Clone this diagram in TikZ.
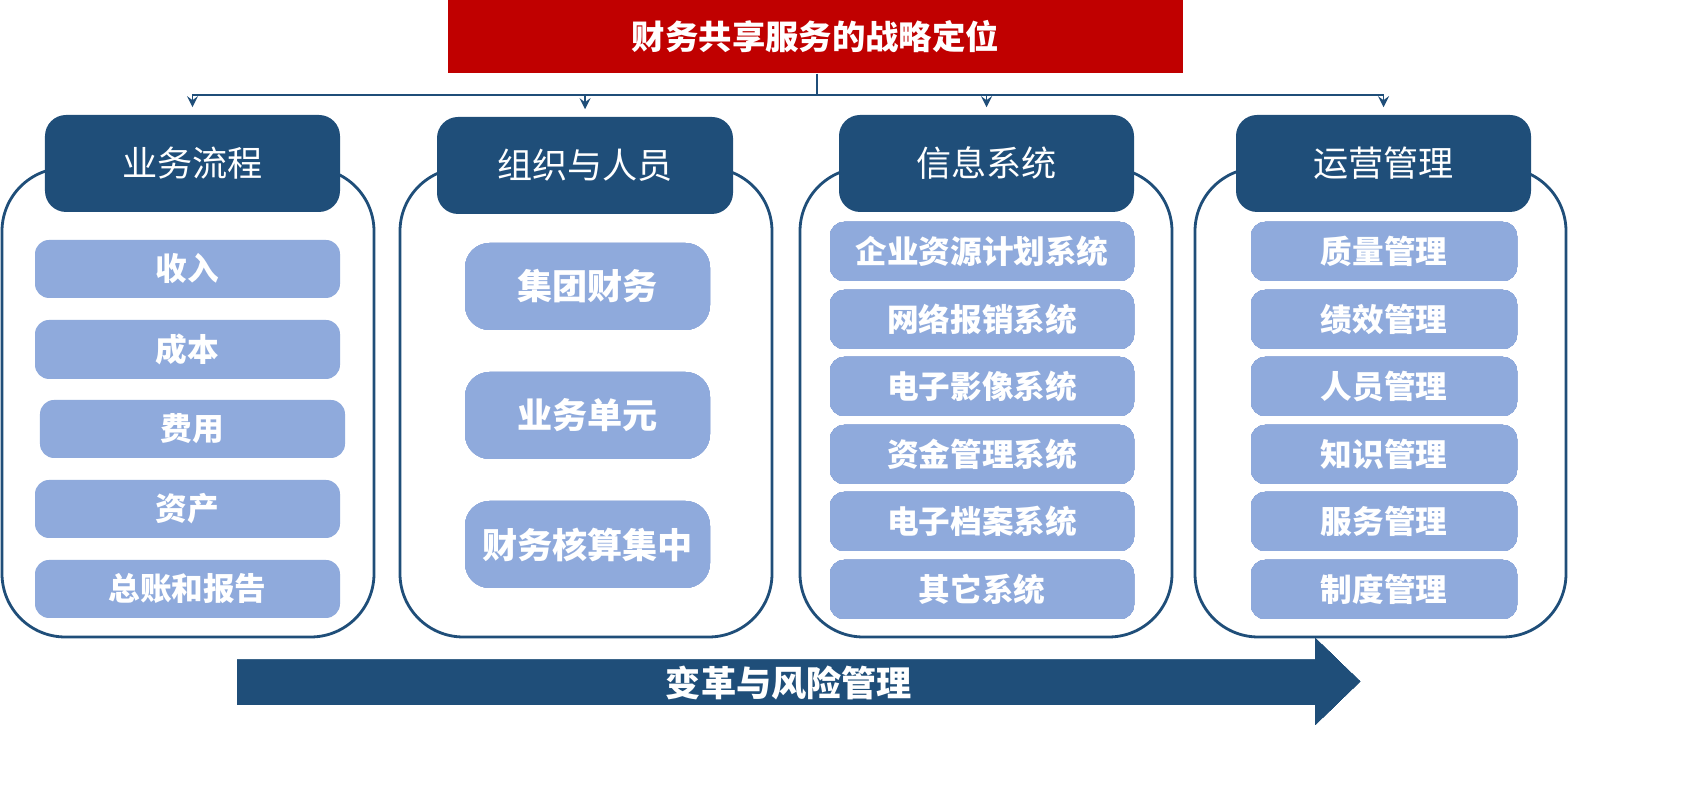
\documentclass[tikz,border=0pt]{standalone}
\usepackage{fontspec}
\setmainfont{Noto Sans CJK SC}
\usetikzlibrary{positioning}
\definecolor{navy}{HTML}{1F4E79}
\definecolor{item}{HTML}{8FAADC}
\definecolor{title}{HTML}{C00000}
\tikzset{
  frame/.style={draw=navy, thick, fill=white, rounded corners=18pt},
  head/.style={fill=navy, rounded corners=6pt, text=white, font=\fontsize{10}{12}\selectfont},
  itembox/.style={fill=item, rounded corners=4pt, text=white, font=\bfseries\fontsize{9}{11}\selectfont},
  link/.style={draw=navy, -stealth, thin}
}
% box from pixel corners (x1,y1,x2,y2)
\newcommand{\pbox}[7]{\node[#1, minimum width={((#4)-(#2))*1cm}, minimum height={((#5)-(#3))*1cm}, inner sep=0pt]
  (#6) at ({((#2)+(#4))/2}, {7.86-((#3)+(#5))/2}) {#7};}
\begin{document}
\begin{tikzpicture}[x=1cm, y=1cm]
\useasboundingbox (0,0) rectangle (16.97,7.86);
% title
\pbox{fill=title, text=white, font=\bfseries\fontsize{9.5}{11}\selectfont}{4.48}{0}{11.83}{0.73}{title}{财务共享服务的战略定位}
% frames
\pbox{frame}{0.02}{1.68}{3.74}{6.37}{f1}{}
\pbox{frame}{4.00}{1.68}{7.72}{6.37}{f2}{}
\pbox{frame}{8.00}{1.68}{11.72}{6.37}{f3}{}
\pbox{frame}{11.95}{1.68}{15.66}{6.37}{f4}{}
% headers
\pbox{head}{0.45}{1.15}{3.40}{2.12}{h1}{业务流程}
\pbox{head}{4.37}{1.17}{7.33}{2.14}{h2}{组织与人员}
\pbox{head}{8.39}{1.15}{11.34}{2.12}{h3}{信息系统}
\pbox{head}{12.36}{1.15}{15.31}{2.12}{h4}{运营管理}
% connectors
\coordinate (split) at (8.17,7.86-0.95);
\draw[navy, thin] (title.south -| split) -- (split);
\foreach \h in {h1,h2,h3,h4}
  \draw[link] (split) -| ([yshift=2pt]\h.north);
% column 1
\foreach \t/\a/\b/\c [count=\i] in {收入/0.35/2.40/2.98, 成本/0.35/3.20/3.79, 费用/0.40/4.00/4.58, 资产/0.35/4.80/5.38, 总账和报告/0.35/5.60/6.18}
  \pbox{itembox}{\a}{\b}{\a+3.05}{\c}{a\i}{\t}
% column 2
\foreach \t/\b [count=\i] in {集团财务/2.43, 业务单元/3.72, 财务核算集中/5.01}
  \pbox{itembox, rounded corners=7pt, font=\bfseries\fontsize{10}{12}\selectfont}{4.65}{\b}{7.10}{\b+0.87}{b\i}{\t}
% column 3 and 4
\foreach \t/\u/\b [count=\i] in {企业资源计划系统/质量管理/2.22, 网络报销系统/绩效管理/2.90, 电子影像系统/人员管理/3.57, 资金管理系统/知识管理/4.25, 电子档案系统/服务管理/4.92, 其它系统/制度管理/5.60}{
  \pbox{itembox}{8.30}{\b}{11.34}{\b+0.59}{c\i}{\t}
  \pbox{itembox}{12.51}{\b}{15.17}{\b+0.59}{d\i}{\u}
}
% bottom arrow
\fill[navy] (2.37,7.86-6.60) -- (13.15,7.86-6.60) -- (13.15,7.86-6.38) -- (13.60,7.86-6.815)
  -- (13.15,7.86-7.25) -- (13.15,7.86-7.05) -- (2.37,7.86-7.05) -- cycle;
\node[text=white, font=\bfseries\fontsize{10}{12}\selectfont] (risk) at (7.89,7.86-6.83) {变革与风险管理};
\end{tikzpicture}
\end{document}
